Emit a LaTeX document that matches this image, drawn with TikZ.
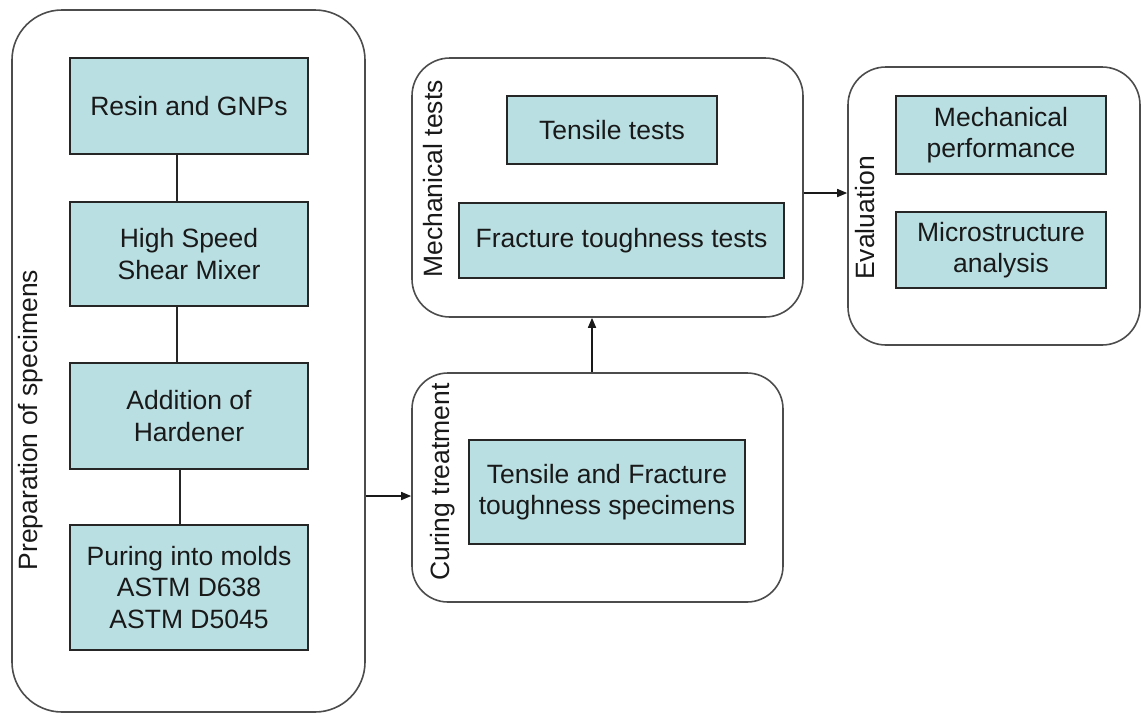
\documentclass[tikz,border=0pt]{standalone}
\usepackage{fontspec}
\setmainfont{Liberation Sans}
\usetikzlibrary{arrows.meta}
\definecolor{boxfill}{RGB}{185,223,226}
\definecolor{txt}{RGB}{25,25,25}
\begin{document}
\begin{tikzpicture}[x=1pt,y=-1pt,
  every node/.style={font=\fontsize{26.5}{31.5}\selectfont, text=txt},
  stage/.style={draw=black!70, line width=1.6pt, inner sep=0pt},
  item/.style={draw=black!85, fill=boxfill, line width=1.6pt, align=center, inner sep=0pt},
  lab/.style={rotate=90, inner sep=0pt},
  link/.style={draw=black!85, line width=1.6pt},
  arr/.style={draw=black!90, line width=1.6pt, -{Triangle[length=10pt,width=8pt]}}]
\useasboundingbox (0,0) rectangle (1141,713);
% stages
\node[stage, rounded corners=50pt, minimum width=353pt, minimum height=702pt] (prep) at (188.5,361) {};
\node[stage, rounded corners=36pt, minimum width=371pt, minimum height=229pt] (cur) at (597.5,487.5) {};
\node[stage, rounded corners=38pt, minimum width=391pt, minimum height=259pt] (mech) at (607.5,187.5) {};
\node[stage, rounded corners=38pt, minimum width=292pt, minimum height=278pt] (eval) at (994,206) {};
% labels
\node[lab] (lprep) at (31,420) {Preparation of specimens};
\node[lab] (lcur) at (443,482) {Curing treatment};
\node[lab] (lmech) at (433,179) {Mechanical tests};
\node[lab] (leval) at (865,218) {Evaluation};
% items
\node[item, minimum width=238pt, minimum height=96pt] (res) at (189,106) {Resin and GNPs};
\node[item, minimum width=238pt, minimum height=104pt] (hss) at (189,254) {High Speed\\Shear Mixer};
\node[item, minimum width=238pt, minimum height=106pt] (add) at (189,416) {Addition of\\Hardener};
\node[item, minimum width=238pt, minimum height=125pt] (pur) at (189,587.5) {Puring into molds\\ASTM D638\\ASTM D5045};
\node[item, minimum width=276pt, minimum height=104pt] (spec) at (607,492) {Tensile and Fracture\\toughness specimens};
\node[item, minimum width=210pt, minimum height=68pt] (tens) at (612,130) {Tensile tests};
\node[item, minimum width=325pt, minimum height=75pt] (frac) at (621.5,240.5) {Fracture toughness tests};
\node[item, minimum width=210pt, minimum height=78pt] (mp) at (1001,135) {Mechanical\\performance};
\node[item, minimum width=210pt, minimum height=76pt] (ms) at (1001,250) {Microstructure\\analysis};
% connectors
\draw[link] (res.south -| 177,0) -- (hss.north -| 177,0);
\draw[link] (hss.south -| 177,0) -- (add.north -| 177,0);
\draw[link] (add.south -| 180,0) -- (pur.north -| 180,0);
\draw[arr] (prep.east |- 0,496) -- (cur.west |- 0,496);
\draw[arr] (cur.north -| 592,0) -- (mech.south -| 592,0);
\draw[arr] (mech.east |- 0,193) -- (eval.west |- 0,193);
\end{tikzpicture}
\end{document}
